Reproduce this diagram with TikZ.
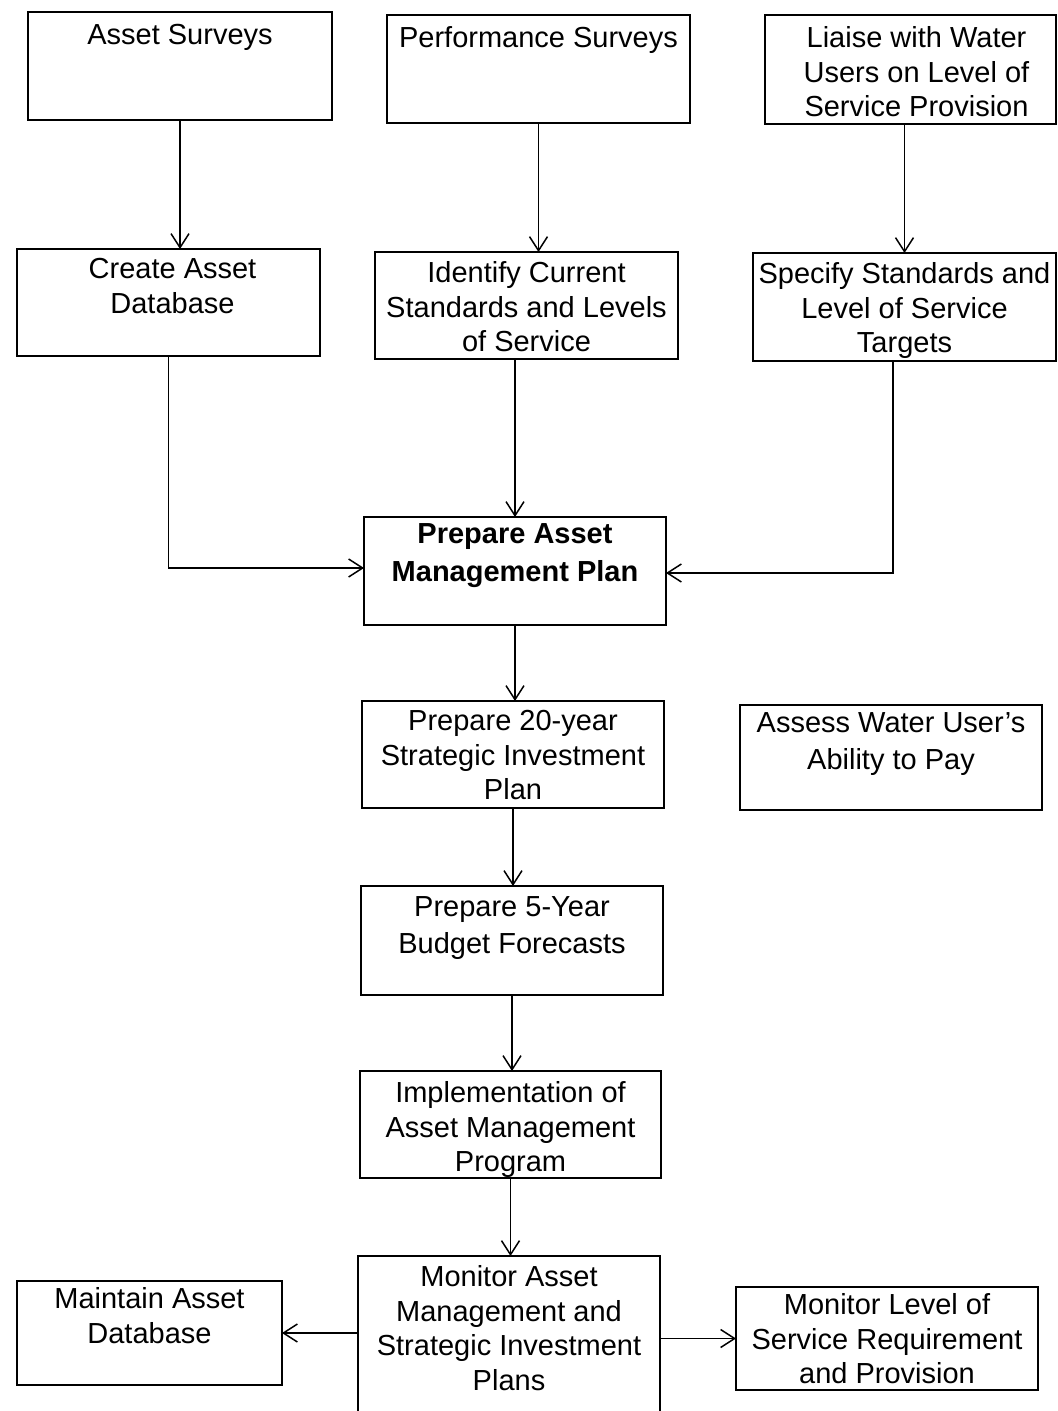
\documentclass[tikz,border=0pt]{standalone}
\usepackage{fontspec}
\setmainfont{Liberation Sans}
\usetikzlibrary{arrows.meta}

% box from (x1,y1) to (x2,y2) with its text block starting at height top
\newcommand{\procnode}[8]{% #1 name, #2 x1, #3 y1, #4 x2, #5 y2, #6 text top, #7 text style, #8 text
  \pgfmathsetmacro\bw{(#4-#2)*0.5}%
  \pgfmathsetmacro\bh{(#5-#3)*0.5}%
  \node[procbox, minimum width=\bw pt, minimum height=\bh pt] (#1) at ({(#2+#4)/2},{(#3+#5)/2}) {};
  \node[proctext,#7] (#1-text) at ({(#2+#4)/2},#6) {#8};
}

\tikzset{
  procbox/.style={draw=black, line width=0.9pt, rectangle, inner sep=0pt, outer sep=0pt},
  proctext/.style={anchor=north, align=center, inner sep=0pt, font=\fontsize{14.5}{17.3}\selectfont},
  widetext/.style={font=\fontsize{14.5}{18.5}\selectfont},
  boldtext/.style={font=\fontsize{14.5}{19}\selectfont\bfseries},
  flowarrow/.style={draw=black, line width=0.75pt, -{Straight Barb[length=7pt,width=9pt]}},
}

\begin{document}
\begin{tikzpicture}[x=0.5pt, y=-0.5pt]
\useasboundingbox (0,0) rectangle (1058,1411);
\begin{scope}
\clip (0,0) rectangle (1058,1411);

% top row
\procnode{asurv}{28}{12}{332}{120}{24}{}{Asset Surveys}
\procnode{psurv}{387}{15}{690}{123}{26}{}{Performance Surveys}
\procnode{liaise}{765}{15}{1056}{124}{26}{xshift=3pt}{Liaise with Water\\Users on Level of\\Service Provision}

% second row
\procnode{cadb}{17}{249}{320}{356}{258}{xshift=2pt}{Create Asset\\Database}
\procnode{ident}{375}{252}{678}{359}{261}{}{Identify Current\\Standards and Levels\\of Service}
\procnode{spec}{753}{253}{1056}{361}{262}{}{Specify Standards and\\Level of Service\\Targets}

% central chain
\procnode{amp}{364}{517}{666}{625}{523}{boldtext}{Prepare Asset\\Management Plan}
\procnode{sip}{362}{701}{664}{808}{710}{}{Prepare 20-year\\Strategic Investment\\Plan}
\procnode{pay}{740}{705}{1042}{810}{712}{widetext}{Assess Water User's\\Ability to Pay}
\procnode{bud}{361}{886}{663}{995}{896}{widetext}{Prepare 5-Year\\Budget Forecasts}
\procnode{impl}{360}{1071}{661}{1178}{1081}{}{Implementation of\\Asset Management\\Program}
\procnode{mon}{358}{1256}{660}{1420}{1265}{}{Monitor Asset\\Management and\\Strategic Investment\\Plans}

% bottom row
\procnode{maint}{17}{1281}{282}{1385}{1287}{}{Maintain Asset\\Database}
\procnode{lvl}{736}{1287}{1038}{1390}{1293}{}{Monitor Level of\\Service Requirement\\and Provision}

% connectors
\draw[flowarrow] (asurv.south) -- (asurv.south |- cadb.north);
\draw[flowarrow] (psurv.south) -- (psurv.south |- ident.north);
\draw[flowarrow] (liaise.south -| spec.north) -- (spec.north);
\draw[flowarrow] (cadb.south) |- ([yshift=1.5pt]amp.west);
\draw[flowarrow] (ident.south -| amp.north) -- (amp.north);
\draw[flowarrow] ([xshift=-5.75pt]spec.south) |- ([yshift=-1pt]amp.east);
\draw[flowarrow] (amp.south) -- (amp.south |- sip.north);
\draw[flowarrow] (sip.south) -- (sip.south |- bud.north);
\draw[flowarrow] (bud.south) -- (bud.south |- impl.north);
\draw[flowarrow] (impl.south) -- (impl.south |- mon.north);
\draw[flowarrow] (maint.east -| mon.west) -- (maint.east);
\draw[flowarrow] (lvl.west -| mon.east) -- (lvl.west);
\end{scope}
\end{tikzpicture}
\end{document}
